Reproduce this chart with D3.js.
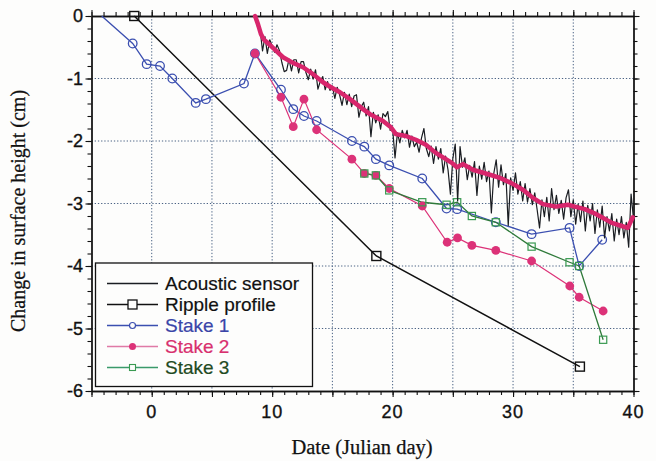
<!DOCTYPE html>
<html>
<head>
<meta charset="utf-8">
<script src="https://cdn.jsdelivr.net/npm/d3@7/dist/d3.min.js"></script>
<style>
  html, body { margin: 0; padding: 0; background: #fdfdfc; }
  svg { display: block; }
</style>
</head>
<body>
<svg id="chart" width="656" height="461"></svg>
<script>
// Axis ticks
const xTickLabels = [0, 10, 20, 30, 40];
const yTickLabels = [0, -1, -2, -3, -4, -5, -6];

// Ripple profile
const rippleDays = [-1.45, 18.65, 35.55];
const rippleValues = [0, -3.84, -5.61];

// Stake 1 (first point is the line origin, no marker)
const stake1Days = [-4.15, -1.58, -0.42, 0.69, 1.71, 3.65, 4.5, 7.66, 8.57, 10.73, 11.75, 12.64, 13.69,
  16.62, 17.65, 18.61, 19.72, 22.46, 24.48, 25.36, 28.57, 31.54, 34.69, 35.49, 37.4];
const stake1Values = [0, -0.44, -0.77, -0.8, -1.0, -1.39, -1.33, -1.08, -0.6, -1.18, -1.49, -1.6, -1.68,
  -2.0, -2.09, -2.29, -2.39, -2.6, -3.08, -3.09, -3.3, -3.49, -3.39, -4.0, -3.58];

// Stake 2
const stake2Days = [8.57, 10.73, 11.75, 12.64, 13.69, 16.62, 17.65, 18.61, 19.72, 22.46,
  24.53, 25.39, 26.58, 28.57, 31.54, 34.71, 35.49, 37.48];
const stake2Values = [-0.6, -1.3, -1.77, -1.33, -1.82, -2.29, -2.52, -2.55, -2.76, -3.04,
  -3.62, -3.55, -3.67, -3.75, -3.92, -4.32, -4.5, -4.72];

// Stake 3
const stake3Days = [17.65, 18.61, 19.72, 22.46, 24.48, 25.36, 26.58, 28.57, 31.54, 34.69, 35.49, 37.48];
const stake3Values = [-2.52, -2.55, -2.79, -2.98, -3.02, -2.98, -3.2, -3.3, -3.69, -3.94, -4.0, -5.18];

// Acoustic sensor record (sampled every 0.2 day from day 8.6)
const acousticStart = 8.6;
const acousticStep = 0.2;
const acousticValues = [
  0.00, -0.18, -0.22, -0.56, -0.33, -0.60, -0.38, -0.48, -0.58, -0.46,
  -0.55, -0.74, -0.89, -0.87, -0.69, -0.88, -0.70, -0.70, -0.91, -0.73,
  -0.73, -0.90, -1.02, -0.85, -1.01, -0.86, -1.17, -1.04, -0.97, -1.18,
  -1.05, -1.19, -1.12, -1.32, -1.14, -1.26, -1.43, -1.22, -1.42, -1.25,
  -1.45, -1.28, -1.26, -1.62, -1.45, -1.38, -1.60, -1.45, -1.93, -1.54,
  -1.71, -1.58, -1.81, -1.56, -1.61, -1.53, -1.83, -1.80, -2.27, -1.87,
  -2.03, -1.83, -1.95, -1.83, -2.10, -1.92, -2.09, -2.02, -2.18, -1.95,
  -1.80, -2.12, -2.25, -2.08, -2.36, -2.09, -2.29, -2.12, -2.51, -2.24,
  -2.46, -2.85, -2.28, -2.05, -2.96, -2.09, -2.42, -2.27, -2.62, -2.39,
  -2.58, -2.33, -2.87, -2.40, -2.61, -2.34, -2.65, -2.48, -3.15, -2.52,
  -2.30, -2.74, -2.38, -2.70, -2.52, -3.35, -2.59, -2.79, -2.51, -2.85,
  -2.65, -2.96, -2.68, -2.98, -2.76, -3.02, -2.83, -3.10, -3.39, -2.94,
  -3.21, -2.90, -3.28, -2.76, -3.10, -2.87, -3.16, -2.95, -3.25, -2.91,
  -2.78, -3.21, -2.94, -3.33, -3.01, -3.29, -2.96, -3.44, -3.03, -3.28,
  -3.00, -3.48, -3.10, -3.38, -3.04, -3.55, -3.21, -3.44, -3.16, -3.60,
  -3.25, -3.50, -3.21, -3.55, -3.30, -3.70, -2.85, -3.25
];

// Smoothed acoustic record
const smoothDays = [8.58, 8.82, 9.07, 9.32, 9.57, 10.07, 10.9, 11.73, 12.56, 13.39, 14.22, 14.88,
  15.63, 16.46, 16.87, 17.54, 18.12, 19.2, 19.86, 20.27, 21.1, 21.93, 22.76, 23.59, 24.42,
  24.92, 25.34, 25.84, 26.67, 28.08, 28.91, 29.83, 30.82, 31.65, 32.48, 33.56, 34.55,
  35.13, 35.96, 36.79, 37.37, 38.2, 39.03, 39.53, 39.94];
const smoothValues = [0, -0.13, -0.29, -0.38, -0.42, -0.51, -0.66, -0.75, -0.82, -0.93, -1.06, -1.14,
  -1.22, -1.33, -1.39, -1.49, -1.57, -1.68, -1.78, -1.89, -1.92, -1.98, -2.06, -2.19, -2.29,
  -2.35, -2.42, -2.37, -2.46, -2.54, -2.59, -2.67, -2.78, -2.91, -3.01, -3.05, -3.02,
  -3.05, -3.09, -3.16, -3.22, -3.31, -3.36, -3.39, -3.22];

const legendLabels = ["Acoustic sensor", "Ripple profile", "Stake 1", "Stake 2", "Stake 3"];

// Layout
const plotLeft = 91.5, plotRight = 633.5, plotTop = 16, plotBottom = 391;
const x = d3.scaleLinear().domain([-5, 40]).range([plotLeft, plotRight]);
const y = d3.scaleLinear().domain([-6, 0]).range([plotBottom, plotTop]);

const colors = {
  ripple: "#111111",
  acoustic: "#1a1d22",
  stake1: "#3b4fb0",
  stake2: "#dc3278",
  stake3: "#2f7a3a",
  stake3Marker: "#3a9a52",
  smooth: "#d8266c",
  grid: "#4a6284"
};

const svg = d3.select("#chart");
const sans = "'Liberation Sans', Arial, Helvetica, sans-serif";
const serif = "'Liberation Serif', 'Times New Roman', serif";

// Grid
const grid = svg.append("g");
grid.selectAll("line.v").data(d3.range(0, 40, 5)).join("line")
  .attr("x1", d => x(d)).attr("x2", d => x(d)).attr("y1", plotTop).attr("y2", plotBottom)
  .attr("stroke", colors.grid).attr("stroke-width", 1).attr("stroke-dasharray", "1.3,1.9");
grid.selectAll("line.h").data(d3.range(-1, -6, -1)).join("line")
  .attr("y1", d => y(d)).attr("y2", d => y(d)).attr("x1", plotLeft).attr("x2", plotRight)
  .attr("stroke", colors.grid).attr("stroke-width", 1).attr("stroke-dasharray", "1.3,1.9");

// Axes with outward ticks on all four sides
function addAxis(axisGen, transform) {
  const g = svg.append("g").attr("transform", transform).call(axisGen);
  g.select(".domain").attr("stroke", "#111").attr("stroke-width", 1.3);
  g.selectAll(".tick line").attr("stroke", "#111").attr("stroke-width", 1.1);
  g.selectAll("text").remove();
  return g;
}
const xMinor = d3.range(-5, 40.001, 1);
const yMinor = d3.range(-6, 0.001, 0.2).map(v => +v.toFixed(1));
const xMajor = d3.range(-5, 40.001, 5);
addAxis(d3.axisBottom(x).tickValues(xMinor).tickSize(4).tickSizeOuter(0), `translate(0,${plotBottom})`);
addAxis(d3.axisBottom(x).tickValues(xMajor).tickSize(6).tickSizeOuter(0), `translate(0,${plotBottom})`);
addAxis(d3.axisTop(x).tickValues(xMinor).tickSize(4).tickSizeOuter(0), `translate(0,${plotTop})`);
addAxis(d3.axisTop(x).tickValues(xMajor).tickSize(6).tickSizeOuter(0), `translate(0,${plotTop})`);
addAxis(d3.axisLeft(y).tickValues(yMinor).tickSize(4).tickSizeOuter(0), `translate(${plotLeft},0)`);
addAxis(d3.axisLeft(y).tickValues(yTickLabels).tickSize(6).tickSizeOuter(0), `translate(${plotLeft},0)`);
addAxis(d3.axisRight(y).tickValues(yMinor).tickSize(4).tickSizeOuter(0), `translate(${plotRight},0)`);
addAxis(d3.axisRight(y).tickValues(yTickLabels).tickSize(6).tickSizeOuter(0), `translate(${plotRight},0)`);

// Tick labels
svg.append("g").selectAll("text").data(xTickLabels).join("text")
  .attr("x", d => x(d)).attr("y", 418)
  .attr("text-anchor", "middle").attr("font-family", sans).attr("font-size", 18)
  .attr("fill", "#111").attr("stroke", "#111").attr("stroke-width", 0.35)
  .attr("letter-spacing", 1).text(d => d);
svg.append("g").selectAll("text").data(yTickLabels).join("text")
  .attr("x", 83).attr("y", d => y(d)).attr("dy", "0.36em")
  .attr("text-anchor", "end").attr("font-family", sans).attr("font-size", 18)
  .attr("fill", "#111").attr("stroke", "#111").attr("stroke-width", 0.35)
  .text(d => d);

// Axis titles
svg.append("text").attr("x", 362).attr("y", 454)
  .attr("text-anchor", "middle").attr("font-family", serif).attr("font-size", 20.5)
  .attr("fill", "#111").attr("stroke", "#111").attr("stroke-width", 0.25)
  .text("Date (Julian day)");
svg.append("text").attr("transform", "translate(25,211) rotate(-90)")
  .attr("text-anchor", "middle").attr("font-family", serif).attr("font-size", 20)
  .attr("fill", "#111").attr("stroke", "#111").attr("stroke-width", 0.25)
  .text("Change in surface height (cm)");

const line = d3.line().x(d => x(d[0])).y(d => y(d[1]));
const zip = (a, b) => a.map((v, i) => [v, b[i]]);

const plot = svg.append("g");

// Ripple profile
const ripple = zip(rippleDays, rippleValues);
plot.append("path").datum(ripple).attr("d", line)
  .attr("fill", "none").attr("stroke", colors.ripple).attr("stroke-width", 1.5);

// Stake 1
const s1 = zip(stake1Days, stake1Values);
plot.append("path").datum(s1).attr("d", line)
  .attr("fill", "none").attr("stroke", colors.stake1).attr("stroke-width", 1.3);

// Stake 2
const s2 = zip(stake2Days, stake2Values);
plot.append("path").datum(s2).attr("d", line)
  .attr("fill", "none").attr("stroke", colors.stake2).attr("stroke-width", 1.2);

// Stake 3
const s3 = zip(stake3Days, stake3Values);
plot.append("path").datum(s3).attr("d", line)
  .attr("fill", "none").attr("stroke", colors.stake3).attr("stroke-width", 1.3);

// Markers
plot.append("g").selectAll("circle").data(s1.slice(1)).join("circle")
  .attr("cx", d => x(d[0])).attr("cy", d => y(d[1])).attr("r", 4.3)
  .attr("fill", "none").attr("stroke", colors.stake1).attr("stroke-width", 1.3);
plot.append("g").selectAll("circle").data(s2).join("circle")
  .attr("cx", d => x(d[0])).attr("cy", d => y(d[1])).attr("r", 4.4)
  .attr("fill", colors.stake2);
plot.append("g").selectAll("rect").data(s3).join("rect")
  .attr("x", d => x(d[0]) - 3.6).attr("y", d => y(d[1]) - 3.6)
  .attr("width", 7.2).attr("height", 7.2)
  .attr("fill", "none").attr("stroke", colors.stake3Marker).attr("stroke-width", 1.2);
plot.append("g").selectAll("rect").data(ripple).join("rect")
  .attr("x", d => x(d[0]) - 4.5).attr("y", d => y(d[1]) - 4.5)
  .attr("width", 9).attr("height", 9)
  .attr("fill", "none").attr("stroke", colors.ripple).attr("stroke-width", 1.4);

// Acoustic sensor trace
const acoustic = acousticValues.map((v, i) => [acousticStart + i * acousticStep, v]);
plot.append("path").datum(acoustic).attr("d", line)
  .attr("fill", "none").attr("stroke", colors.acoustic).attr("stroke-width", 1.2)
  .attr("stroke-linejoin", "round");

// Smoothed trace
const smooth = zip(smoothDays, smoothValues);
plot.append("path").datum(smooth).attr("d", line)
  .attr("fill", "none").attr("stroke", colors.smooth).attr("stroke-width", 4.5)
  .attr("stroke-linejoin", "round").attr("stroke-linecap", "round");

// Legend
const legend = svg.append("g");
legend.append("rect").attr("x", 95.5).attr("y", 263).attr("width", 217).attr("height", 123.5)
  .attr("fill", "#fdfdfc").attr("stroke", "#111").attr("stroke-width", 1.3);
const textColors = ["#111", "#111", "#3a45a8", "#d8306e", "#1f4a22"];
const lineColors = [colors.acoustic, colors.ripple, colors.stake1, "#e07aa6", "#3a9a6a"];
legendLabels.forEach((label, i) => {
  const cy = 283.5 + i * 21;
  legend.append("line").attr("x1", 107).attr("x2", 158).attr("y1", cy).attr("y2", cy)
    .attr("stroke", lineColors[i]).attr("stroke-width", 1.3);
  if (i === 1) {
    legend.append("rect").attr("x", 128).attr("y", cy - 4.5).attr("width", 9).attr("height", 9)
      .attr("fill", "#fdfdfc").attr("stroke", colors.ripple).attr("stroke-width", 1.3);
  } else if (i === 2) {
    legend.append("circle").attr("cx", 132.5).attr("cy", cy).attr("r", 3)
      .attr("fill", "#fdfdfc").attr("stroke", colors.stake1).attr("stroke-width", 1.2);
  } else if (i === 3) {
    legend.append("circle").attr("cx", 132.5).attr("cy", cy).attr("r", 3.5)
      .attr("fill", colors.stake2);
  } else if (i === 4) {
    legend.append("rect").attr("x", 129.5).attr("y", cy - 3).attr("width", 6).attr("height", 6)
      .attr("fill", "#fdfdfc").attr("stroke", colors.stake3Marker).attr("stroke-width", 1.1);
  }
  legend.append("text").attr("x", 165).attr("y", cy).attr("dy", "0.36em")
    .attr("font-family", sans).attr("font-size", 19).attr("fill", textColors[i])
    .attr("stroke", textColors[i]).attr("stroke-width", 0.2)
    .text(label);
});
</script>
</body>
</html>
